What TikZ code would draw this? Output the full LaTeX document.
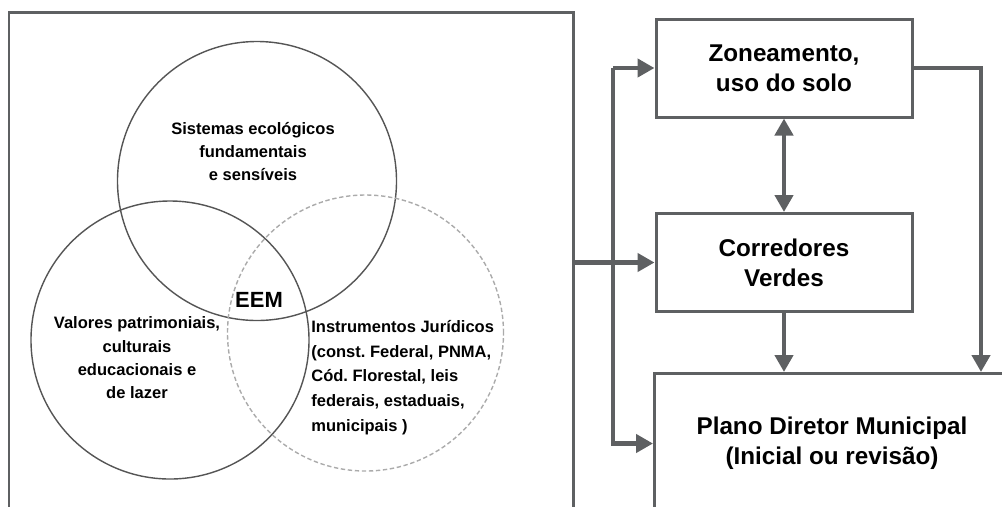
\documentclass[tikz,border=0pt]{standalone}
\usepackage{fontspec}
\setmainfont{Liberation Sans}
\usetikzlibrary{arrows.meta, positioning, calc}
\frenchspacing
\definecolor{cline}{HTML}{5E6062}
\definecolor{cring}{HTML}{555555}
\definecolor{cdash}{HTML}{ABABAB}
\tikzset{
  every picture/.style={font=\bfseries},
  vtext/.style={font=\bfseries\fontsize{9.4}{13.3}\selectfont, align=center, inner sep=0pt},
  box/.style={draw=cline, line width=1.7pt, minimum width=5.12cm, minimum height=1.96cm, align=center, font=\bfseries\fontsize{13.8}{17}\selectfont},
  arrow/.style={-{Triangle[length=0.34cm, width=0.36cm]}, draw=cline, line width=2.8pt},
  twoway/.style={arrow, {Triangle[length=0.34cm, width=0.36cm]}-{Triangle[length=0.34cm, width=0.36cm]}},
  ring/.style={draw=cring, line width=0.8pt},
  ringdash/.style={draw=cdash, line width=0.8pt, dash pattern=on 2.5pt off 1.5pt},
  frame/.style={draw=cline, line width=1.7pt},
}

\begin{document}
\begin{tikzpicture}
  \useasboundingbox (0,0) rectangle (20.04,-10.12);
  \clip (0,0) rectangle (20.04,-10.12);
  % left frame with the three circles
  \draw[frame] (0.18,-10.5) |- (11.47,-0.24) -- (11.47,-10.5);
  \draw[ring] (5.14,-3.62) circle (2.79);
  \draw[ring] (3.40,-6.80) circle (2.78);
  \draw[ringdash] (7.31,-6.66) circle (2.76);
  \node[vtext] (sis) at (5.06,-3.03) {Sistemas ecológicos\\fundamentais\\e sensíveis};
  \node[vtext, font=\bfseries\fontsize{12.5}{14}\selectfont] (eem) at (5.18,-6.0) {EEM};
  \node[vtext] (val) at (2.74,-7.16) {Valores patrimoniais,\\culturais\\educacionais e\\de lazer};
  \node[vtext, align=left, font=\bfseries\fontsize{9.4}{14}\selectfont, anchor=west] (ins) at (6.22,-7.55)
    {Instrumentos Jurídicos\\(const. Federal, PNMA,\\Cód. Florestal, leis\\federais, estaduais,\\municipais )};
  % right column
  \node[box] (zon) at (15.68,-1.36) {Zoneamento,\\uso do solo};
  \node[box] (cor) at (15.68,-5.25) {Corredores\\Verdes};
  \node[box, minimum width=7.1cm, minimum height=2.8cm, anchor=north west] (pla) at (13.06,-7.44)
    {Plano Diretor Municipal\\(Inicial ou revisão)};
  \coordinate (out) at (11.47,-5.25);
  \coordinate (bus) at (12.26,-5.25);
  \coordinate (rt) at (19.62,-1.36);
  \draw[arrow] (out) -- (cor.west);
  \draw[arrow] (zon.west -| bus) -- (zon.west);
  \draw[arrow] (zon.west -| bus) |- (pla.west);
  \draw[twoway] (zon.south) -- (cor.north);
  \draw[arrow] (cor.south) -- (cor.south |- pla.north);
  \draw[arrow] (zon.east) -- (rt) -- (rt |- pla.north);
\end{tikzpicture}
\end{document}
